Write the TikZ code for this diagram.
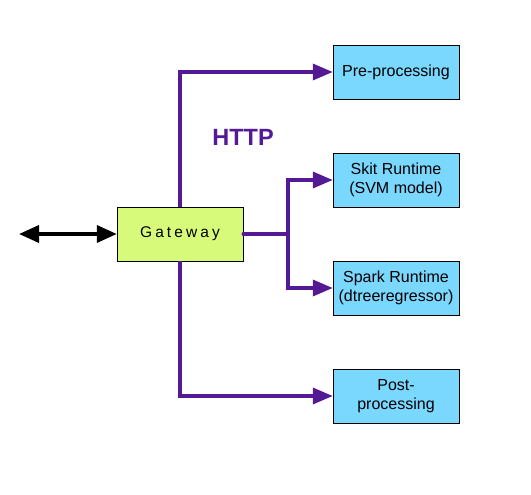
\documentclass[tikz,border=0pt]{standalone}
\usepackage{fontspec}
\setmainfont{Liberation Sans}
\usepackage{tikz}
\usetikzlibrary{arrows.meta,positioning,calc}
\definecolor{LinkPurple}{RGB}{84,26,150}
\definecolor{GateGreen}{RGB}{216,250,122}
\definecolor{StageBlue}{RGB}{122,215,253}

\begin{document}
\begin{tikzpicture}[x=1pt, y=-1pt,
    stagebox/.style={draw, thin, fill=StageBlue, minimum width=126pt, minimum height=54pt, align=center, font=\fontsize{16}{18.5}\selectfont},
    gatebox/.style={draw, thin, fill=GateGreen, minimum width=126pt, minimum height=54pt},
    link/.style={draw=LinkPurple, line width=3.4pt, -{Triangle[length=20pt, width=16pt, fill=LinkPurple]}},
    plainlink/.style={draw=LinkPurple, line width=3.4pt}]
      \useasboundingbox (0,0) rectangle (531,495);
      \node[gatebox] (gw) at (180,234) {\fontsize{15.5}{18}\selectfont\addfontfeatures{LetterSpace=20}Gateway};
      \node[stagebox] (pre) at (396,72) {Pre-processing};
      \node[stagebox] (skit) at (396,180) {Skit Runtime\\(SVM model)};
      \node[stagebox] (spark) at (396,288) {Spark Runtime\\(dtreeregressor)};
      \node[stagebox] (post) at (396,396) {Post-\\processing};
      \coordinate (client) at (19,234);
      \coordinate (fork) at (288,234);
      % client side
      \draw[line width=3.6pt, {Triangle[length=20pt, width=17pt]}-{Triangle[length=20pt, width=17pt]}] (client) -- (gw.west);
      % http links
      \draw[link] (gw.north) |- (pre.west);
      \draw[link] (gw.south) |- (post.west);
      \draw[plainlink, line cap=round] (gw.east) -- (fork);
      \draw[link] (fork) |- (skit.west);
      \draw[link] (fork) |- (spark.west);
      \node[text=LinkPurple, font=\bfseries\fontsize{23.5}{27}\selectfont] (http) at (243,137) {HTTP};
    \end{tikzpicture}
\end{document}
